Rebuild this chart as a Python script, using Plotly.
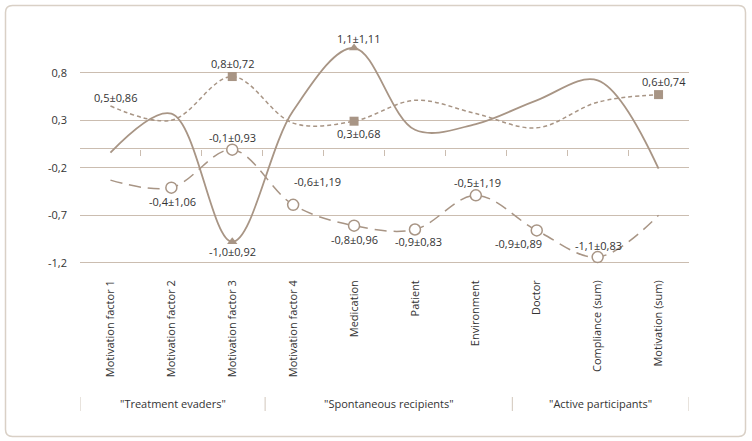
import plotly.graph_objects as go

categories = ["Motivation factor 1", "Motivation factor 2", "Motivation factor 3",
              "Motivation factor 4", "Medication", "Patient", "Environment",
              "Doctor", "Compliance (sum)", "Motivation (sum)"]

# Solid line (triangles)
solid_values = [-0.04, 0.37, -0.98, 0.40, 1.06, 0.20, 0.26, 0.51, 0.72, -0.21]
solid_markers = [False, False, True, False, True, False, False, False, False, False]
solid_labels = [None, None, "-1,0±0,92", None, "1,1±1,11", None, None, None, None, None]

# Short-dashed line (squares)
square_values = [0.45, 0.30, 0.76, 0.27, 0.29, 0.51, 0.37, 0.22, 0.49, 0.57]
square_markers = [False, False, True, False, True, False, False, False, False, True]
square_labels = ["0,5±0,86", None, "0,8±0,72", None, "0,3±0,68", None, None, None, None, "0,6±0,74"]

# Long-dashed line (open circles)
circle_values = [-0.33, -0.41, -0.01, -0.59, -0.81, -0.85, -0.49, -0.86, -1.14, -0.70]
circle_markers = [False, True, True, True, True, True, True, True, True, False]
circle_labels = [None, "-0,4±1,06", "-0,1±0,93", "-0,6±1,19", "-0,8±0,96", "-0,9±0,83",
                 "-0,5±1,19", "-0,9±0,89", "-1,1±0,83", None]

y_tickvals = [0.8, 0.3, -0.2, -0.7, -1.2]
y_ticktext = ["0,8", "0,3", "-0,2", "-0,7", "-1,2"]

groups = ['"Treatment evaders"', '"Spontaneous recipients"', '"Active participants"']
group_bounds = [-0.5, 2.54, 6.6, 9.5]

# label offsets in pixels (styling)
solid_offsets = {2: (0, -10), 4: (4, 10)}
square_offsets = {0: (5, 9), 2: (0, 13), 4: (4, -12), 9: (5, 13)}
circle_offsets = {1: (1, -14), 2: (0, 12), 3: (24, 23), 4: (0, -14), 5: (4, -12),
                  6: (2, 13), 7: (-18, -13), 8: (1, 12)}

COL = "#a89585"
GRID = "#cbbdb0"
FRAME = "#d9d0c6"
TXT = "#333333"
FONT = "Open Sans"

y_min, y_max = -1.35, 1.25
x_idx = list(range(len(categories)))

fig = go.Figure()

def add_series(values, markers, dash, width, symbol, size, mfill, mline):
    fig.add_trace(go.Scatter(
        x=x_idx, y=values, mode="lines",
        line=dict(color=COL, width=width, dash=dash, shape="spline", smoothing=1.0),
        hoverinfo="skip", showlegend=False))
    mx = [i for i, m in zip(x_idx, markers) if m]
    my = [v for v, m in zip(values, markers) if m]
    fig.add_trace(go.Scatter(
        x=mx, y=my, mode="markers",
        marker=dict(symbol=symbol, size=size, color=mfill,
                    line=dict(color=COL, width=mline)),
        hoverinfo="skip", showlegend=False))

add_series(circle_values, circle_markers, "12px,7px", 1.5, "circle", 11, "white", 1.5)
add_series(square_values, square_markers, "4px,3px", 1.5, "square", 9, COL, 0)
add_series(solid_values, solid_markers, "solid", 1.8, "triangle-up", 9, COL, 0)

def add_labels(values, labels, offsets):
    for i, (v, t) in enumerate(zip(values, labels)):
        if t is None:
            continue
        dx, dy = offsets.get(i, (0, 12))
        fig.add_annotation(x=i, y=v, xref="x", yref="y", text=t, showarrow=False,
                           xshift=dx, yshift=dy, xanchor="center", yanchor="middle",
                           font=dict(family=FONT, size=11, color=TXT))

add_labels(solid_values, solid_labels, solid_offsets)
add_labels(square_values, square_labels, square_offsets)
add_labels(circle_values, circle_labels, circle_offsets)

# zero-line ticks axis
fig.add_trace(go.Scatter(x=[0.5], y=[None], xaxis="x2", mode="lines",
                         hoverinfo="skip", showlegend=False))

plot_top, plot_bottom, plot_left, plot_right = 30, 277, 80, 689
W, H = 752, 441
ph = plot_bottom - plot_top
pw = plot_right - plot_left

def py(pix):
    return (plot_bottom - pix) / ph

def px(pix):
    return (pix - plot_left) / pw

fig.update_layout(
    width=W, height=H,
    margin=dict(l=plot_left, r=W - plot_right, t=plot_top, b=H - plot_bottom),
    paper_bgcolor="white", plot_bgcolor="white",
    font=dict(family=FONT, size=11, color=TXT),
    xaxis=dict(range=[-0.5, len(categories) - 0.5], tickvals=x_idx, ticktext=categories,
               tickangle=-90, showgrid=False, zeroline=False, showline=False, ticks="",
               tickfont=dict(family=FONT, size=11, color=TXT)),
    xaxis2=dict(overlaying="x", anchor="free", side="bottom",
                position=(0 - y_min) / (y_max - y_min),
                range=[-0.5, len(categories) - 0.5],
                tickvals=[i + 0.5 for i in range(len(categories) - 1)],
                showticklabels=False, ticks="outside", ticklen=6, tickcolor=GRID,
                tickwidth=1, showgrid=False, zeroline=False, showline=False),
    yaxis=dict(range=[y_min, y_max], tickvals=y_tickvals, ticktext=y_ticktext,
               showgrid=True, gridcolor=GRID, gridwidth=1,
               zeroline=True, zerolinecolor=GRID, zerolinewidth=1,
               showline=False, ticks="", ticklabelstandoff=12,
               tickfont=dict(family=FONT, size=11, color=TXT)),
)

# group labels and separators
for g, (a, b) in zip(groups, zip(group_bounds[:-1], group_bounds[1:])):
    fig.add_annotation(x=(a + b) / 2, y=py(404), xref="x", yref="paper", text=g,
                       showarrow=False, xanchor="center", yanchor="middle",
                       font=dict(family=FONT, size=11, color=TXT))
for bnd in group_bounds:
    fig.add_shape(type="line", x0=bnd, x1=bnd, y0=py(397), y1=py(411), xref="x",
                  yref="paper", line=dict(color=FRAME, width=1.2))

# rounded frame
x0, x1 = px(5.5), px(745.5)
y0, y1 = py(436.5), py(5.5)
rx, ry = 7 / pw, 7 / ph
path = (f"M {x0+rx},{y1} L {x1-rx},{y1} Q {x1},{y1} {x1},{y1-ry} "
        f"L {x1},{y0+ry} Q {x1},{y0} {x1-rx},{y0} L {x0+rx},{y0} "
        f"Q {x0},{y0} {x0},{y0+ry} L {x0},{y1-ry} Q {x0},{y1} {x0+rx},{y1} Z")
fig.add_shape(type="path", path=path, xref="paper", yref="paper",
              line=dict(color=FRAME, width=1.5), layer="below")

fig.write_html("out.html", config={"displayModeBar": False},
               post_script="document.body.style.margin='0';document.body.style.overflow='hidden';")
